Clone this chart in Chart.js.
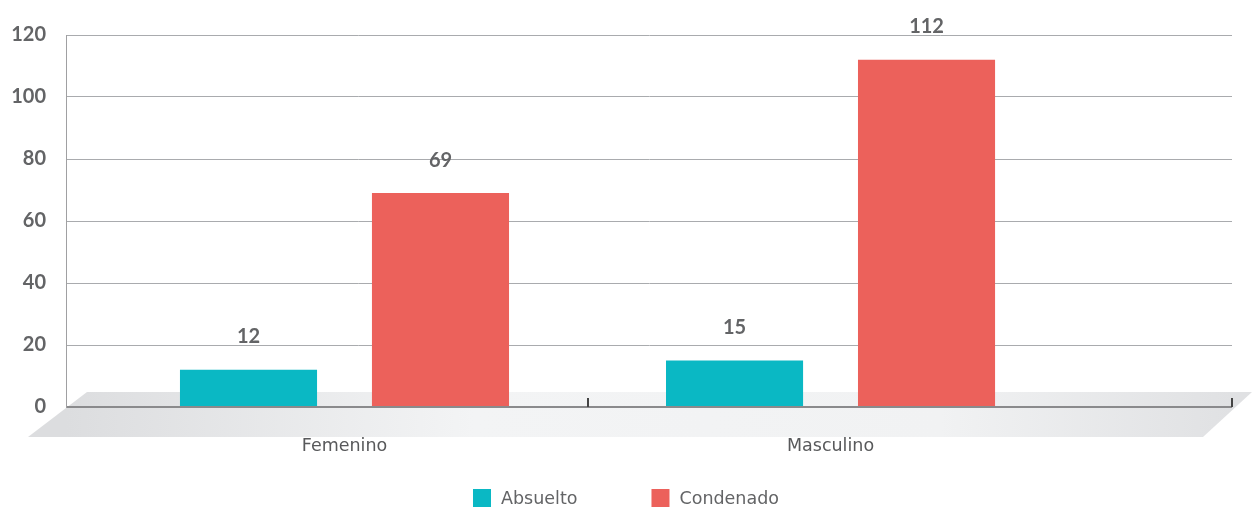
<!DOCTYPE html>
<html lang="es">
<head>
  <meta charset="UTF-8">
  <title>Absuelto / Condenado por sexo</title>
  <script src="https://cdn.jsdelivr.net/npm/chart.js"></script>
  <style>
    html, body { margin: 0; padding: 0; background: #fff; }
    #wrap { width: 1252px; height: 508px; }
  </style>
</head>
<body>
  <div id="wrap"><canvas id="chart"></canvas></div>

  <script>
    // datos
    const categorias = ['Femenino', 'Masculino'];
    const absuelto   = [12, 15];
    const condenado  = [69, 112];
    const yTicks     = [0, 20, 40, 60, 80, 100, 120];

    const grisTexto = '#636466';
    const numFont = { family: 'Lato', size: 20, weight: 'bold' };
    const txtFont = { family: 'DejaVu Sans', size: 17.5 };

    // piso gris tipo 3D detras de las barras
    const pisoPlugin = {
      id: 'piso',
      beforeDraw(chart) {
        const { ctx, chartArea: a } = chart;
        const top = a.bottom - 15, bot = a.bottom + 30;
        const g = ctx.createLinearGradient(a.left, 0, a.right, 0);
        g.addColorStop(0, '#dcdddf');
        g.addColorStop(0.35, '#f3f4f5');
        g.addColorStop(0.75, '#f1f2f3');
        g.addColorStop(1, '#e0e1e3');
        ctx.save();
        ctx.fillStyle = g;
        ctx.beginPath();
        ctx.moveTo(a.left + 21, top);
        ctx.lineTo(a.right + 20, top);
        ctx.lineTo(a.right - 29, bot);
        ctx.lineTo(a.left - 38, bot);
        ctx.closePath();
        ctx.fill();
        ctx.restore();
      },
      afterDraw(chart) {
        // marcas pequenas sobre el eje x
        const { ctx, chartArea: a, scales } = chart;
        const xs = [scales.x.getPixelForValue(0.5), a.right];
        ctx.save();
        ctx.strokeStyle = '#444';
        ctx.lineWidth = 2;
        xs.forEach(x => {
          ctx.beginPath();
          ctx.moveTo(Math.round(x), a.bottom - 9);
          ctx.lineTo(Math.round(x), a.bottom);
          ctx.stroke();
        });
        ctx.restore();
      }
    };

    // valores encima de las barras
    const etiquetasPlugin = {
      id: 'etiquetas',
      afterDatasetsDraw(chart) {
        const { ctx } = chart;
        ctx.save();
        ctx.font = `${numFont.weight} ${numFont.size}px ${numFont.family}`;
        ctx.fillStyle = grisTexto;
        ctx.textAlign = 'center';
        ctx.textBaseline = 'middle';
        chart.data.datasets.forEach((ds, i) => {
          chart.getDatasetMeta(i).data.forEach((bar, j) => {
            ctx.fillText(ds.data[j].y, bar.x, bar.y - 33);
          });
        });
        ctx.restore();
      }
    };

    // leyenda abajo, centrada
    const leyendaPlugin = {
      id: 'leyenda',
      afterDraw(chart) {
        const { ctx } = chart;
        const box = 18, gapTxt = 10, gapItem = 74;
        ctx.save();
        ctx.font = `${txtFont.size}px ${txtFont.family}`;
        const items = chart.data.datasets.map(ds => ({
          label: ds.label, color: ds.backgroundColor,
          w: box + gapTxt + ctx.measureText(ds.label).width
        }));
        const total = items.reduce((s, it) => s + it.w, 0) + gapItem * (items.length - 1);
        let x = (chart.width - total) / 2;
        const y = chart.height - 10;
        ctx.textBaseline = 'middle';
        items.forEach(it => {
          ctx.fillStyle = it.color;
          ctx.fillRect(x, y - box / 2, box, box);
          ctx.fillStyle = grisTexto;
          ctx.fillText(it.label, x + box + gapTxt, y + 1);
          x += it.w + gapItem;
        });
        ctx.restore();
      }
    };

    const toPts = vals => vals.map((v, i) => ({ x: i, y: v }));

    new Chart(document.getElementById('chart'), {
      type: 'bar',
      data: {
        datasets: [
          { label: 'Absuelto',  data: toPts(absuelto),  backgroundColor: '#0ab8c4' },
          { label: 'Condenado', data: toPts(condenado), backgroundColor: '#ec615b' }
        ]
      },
      options: {
        responsive: true,
        maintainAspectRatio: false,
        animation: false,
        categoryPercentage: 0.79,
        barPercentage: 0.714,
        layout: { padding: { top: 35, right: 20, left: 0, bottom: 0 } },
        plugins: {
          legend: { display: false },
          tooltip: { enabled: false }
        },
        scales: {
          x: {
            type: 'linear',
            offset: false,
            min: -0.573,
            max: 1.826,
            afterBuildTicks: s => { s.ticks = categorias.map((c, i) => ({ value: i })); },
            afterFit: s => { s.height = 101; },
            grid: { display: false, drawTicks: false },
            border: { display: false },
            ticks: {
              callback: v => categorias[v] ?? '',
              color: '#58595b',
              font: txtFont,
              padding: 29,
              maxRotation: 0
            }
          },
          y: {
            min: 0,
            max: 120,
            afterBuildTicks: s => { s.ticks = yTicks.map(v => ({ value: v })); },
            afterFit: s => { s.width = 66; },
            grid: {
              drawTicks: false,
              color: c => c.tick && c.tick.value === 0 ? '#8a8a8c' : '#a9abae',
              lineWidth: c => c.tick && c.tick.value === 0 ? 2 : 1
            },
            border: { display: true, color: '#a0a0a2', width: 1 },
            ticks: {
              color: grisTexto,
              font: numFont,
              padding: 20
            }
          }
        }
      },
      plugins: [pisoPlugin, etiquetasPlugin, leyendaPlugin]
    });
  </script>
</body>
</html>
